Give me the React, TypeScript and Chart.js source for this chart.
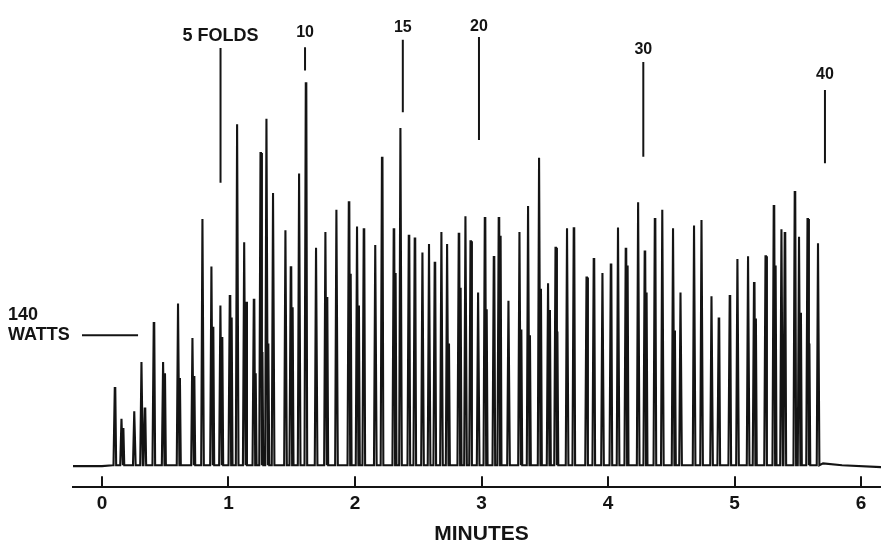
import { useEffect, useRef } from 'react';
import { Chart, registerables } from 'chart.js';
Chart.register(...registerables);

// Peak times (minutes) and peak power (watts)
const peakMinutes = [
  0.103, 0.156, 0.257, 0.314, 0.340, 0.411, 0.485, 0.603, 0.717, 0.796,
  0.867, 0.938, 1.012, 1.070, 1.126, 1.202, 1.255, 1.302, 1.354, 1.452,
  1.494, 1.560, 1.613, 1.694, 1.768, 1.855, 1.953, 2.018, 2.071, 2.162,
  2.215, 2.308, 2.361, 2.427, 2.474, 2.535, 2.587, 2.632, 2.685, 2.730,
  2.822, 2.875, 2.915, 2.975, 3.028, 3.099, 3.138, 3.215, 3.302, 3.370,
  3.457, 3.528, 3.587, 3.678, 3.731, 3.832, 3.889, 3.958, 4.024, 4.081,
  4.142, 4.240, 4.292, 4.372, 4.431, 4.516, 4.575, 4.682, 4.741, 4.820,
  4.877, 4.964, 5.025, 5.109, 5.156, 5.247, 5.312, 5.373, 5.399, 5.478,
  5.512, 5.579, 5.662,
];
const peakWatts = [
  83, 50, 58, 111, 61, 153, 111, 174, 137, 265,
  214, 172, 182, 367, 240, 178, 336, 373, 293, 253,
  213, 314, 411, 234, 251, 275, 283, 257, 254, 237,
  331, 254, 363, 247, 244, 229, 238, 218, 251, 238,
  249, 268, 241, 186, 266, 224, 266, 177, 251, 279,
  331, 196, 234, 255, 255, 202, 222, 207, 216, 256,
  233, 283, 230, 265, 275, 255, 186, 258, 264, 182,
  158, 182, 222, 225, 196, 225, 279, 254, 250, 294,
  246, 265, 239,
];
// Secondary (shoulder) pen stroke next to a peak, 0 = none
const shoulderWatts = [
  0, 40, 0, 0, 0, 0, 99, 94, 96, 0,
  149, 138, 159, 0, 176, 99, 122, 131, 0, 0,
  170, 0, 0, 0, 181, 0, 206, 172, 0, 0,
  0, 207, 0, 0, 0, 0, 0, 0, 0, 131,
  191, 0, 0, 0, 168, 0, 247, 0, 146, 140,
  190, 167, 144, 0, 0, 0, 0, 0, 0, 0,
  215, 0, 186, 0, 0, 145, 0, 0, 0, 0,
  0, 0, 0, 0, 158, 0, 215, 0, 0, 0,
  164, 131, 0,
];

// Quiet baseline before the first fold and the tail after the last one
const leadMinutes = [-0.229, 0.0, 0.085];
const leadWatts = [-1, -1, 0];
const tailMinutes = [5.70, 5.85, 6.158];
const tailWatts = [2, 0, -2];

// Fold-count markers
const foldLabels = ['5 FOLDS', '10', '15', '20', '30', '40'];
const foldMinutes = [0.937, 1.605, 2.378, 2.98, 4.279, 5.715];
const foldLabelWatts = [462, 466, 471, 472, 447, 420];
const foldLineTopWatts = [449, 450, 458, 461, 434, 404];
const foldLineBottomWatts = [304, 425, 380, 350, 332, 325];

// 140 W reference
const refLabels = ['140', 'WATTS'];
const refWatts = 140;
const refLabelMinutes = -0.743;
const refLineMinutes = [-0.158, 0.285];

const tickValues = [0, 1, 2, 3, 4, 5, 6];
const axisTitle = 'MINUTES';
const axisTitleMinutes = 3.0;
const xMin = -0.2292;
const xMax = 6.158;
const yMin = -23.7;
const yMax = 480.3;

const INK = '#141414';
const FONT = '"Liberation Sans", Arial, Helvetica, sans-serif';

export default function App() {
  const ref = useRef<HTMLCanvasElement | null>(null);

  useEffect(() => {
    if (!ref.current) return;

    const trace: { x: number; y: number }[] = [];
    leadMinutes.forEach((t, i) => trace.push({ x: t, y: leadWatts[i] }));
    peakMinutes.forEach((t, i) => {
      const h = peakWatts[i];
      const s = shoulderWatts[i];
      trace.push({ x: t - 0.012, y: 0 });
      trace.push({ x: t - 0.002, y: h });
      trace.push({ x: t + 0.002, y: h });
      trace.push({ x: t + 0.009, y: 0 });
      if (s > 0) {
        trace.push({ x: t + 0.013, y: s });
        trace.push({ x: t + 0.020, y: 0 });
      }
    });
    tailMinutes.forEach((t, i) => trace.push({ x: t, y: tailWatts[i] }));

    const datasets: any[] = [
      {
        data: trace,
        borderColor: INK,
        borderWidth: 2.1,
        pointRadius: 0,
        tension: 0,
      },
      ...foldMinutes.map((t, i) => ({
        data: [
          { x: t, y: foldLineBottomWatts[i] },
          { x: t, y: foldLineTopWatts[i] },
        ],
        borderColor: INK,
        borderWidth: 2,
        pointRadius: 0,
      })),
      {
        data: [
          { x: refLineMinutes[0], y: refWatts },
          { x: refLineMinutes[1], y: refWatts },
        ],
        borderColor: INK,
        borderWidth: 2,
        pointRadius: 0,
      },
    ];

    const labelPlugin = {
      id: 'labels',
      afterDraw(chart: any) {
        const { ctx, scales, chartArea } = chart;
        const xs = scales.x;
        const ys = scales.y;
        ctx.save();
        ctx.fillStyle = INK;
        ctx.textBaseline = 'middle';
        ctx.textAlign = 'center';
        foldLabels.forEach((lab, i) => {
          ctx.font = `bold ${i === 0 ? 18 : 16}px ${FONT}`;
          ctx.fillText(lab, xs.getPixelForValue(foldMinutes[i]), ys.getPixelForValue(foldLabelWatts[i]));
        });
        // axis title, centred under the middle of the 0–6 minute range
        ctx.font = `bold 21px ${FONT}`;
        ctx.fillText(axisTitle, xs.getPixelForValue(axisTitleMinutes), chartArea.bottom + 47);
        ctx.textAlign = 'left';
        ctx.font = `bold 18px ${FONT}`;
        const lx = xs.getPixelForValue(refLabelMinutes);
        const ly = ys.getPixelForValue(refWatts);
        ctx.fillText(refLabels[0], lx, ly - 20);
        ctx.fillText(refLabels[1], lx, ly);
        ctx.restore();
      },
    };

    const chart = new Chart(ref.current, {
      type: 'line',
      data: { datasets },
      plugins: [labelPlugin],
      options: {
        animation: false,
        responsive: false,
        maintainAspectRatio: false,
        layout: { padding: { left: 73, right: 0, top: 19, bottom: 11.75 } },
        plugins: { legend: { display: false }, tooltip: { enabled: false } },
        elements: { point: { radius: 0 } },
        scales: {
          x: {
            type: 'linear',
            min: xMin,
            max: xMax,
            afterBuildTicks: (s: any) => {
              s.ticks = tickValues.map((v) => ({ value: v }));
            },
            afterFit: (s: any) => {
              s.paddingRight = 0;
              s.paddingLeft = 0;
            },
            grid: {
              display: true,
              drawOnChartArea: false,
              drawTicks: true,
              tickLength: -11,
              color: INK,
              lineWidth: 2,
            },
            border: { display: true, color: INK, width: 2 },
            ticks: {
              font: { family: FONT, size: 19, weight: 'bold', lineHeight: 1 },
              color: INK,
              padding: 18,
              maxRotation: 0,
              autoSkip: false,
            },
            title: { display: false },
          },
          y: { type: 'linear', display: false, min: yMin, max: yMax },
        },
      } as any,
    });
    return () => chart.destroy();
  }, []);

  return (
    <div style={{ position: 'fixed', left: 0, top: 0, width: 881, height: 543, background: '#fff' }}>
      <canvas ref={ref} width={881} height={543} style={{ width: 881, height: 543 }} />
    </div>
  );
}
